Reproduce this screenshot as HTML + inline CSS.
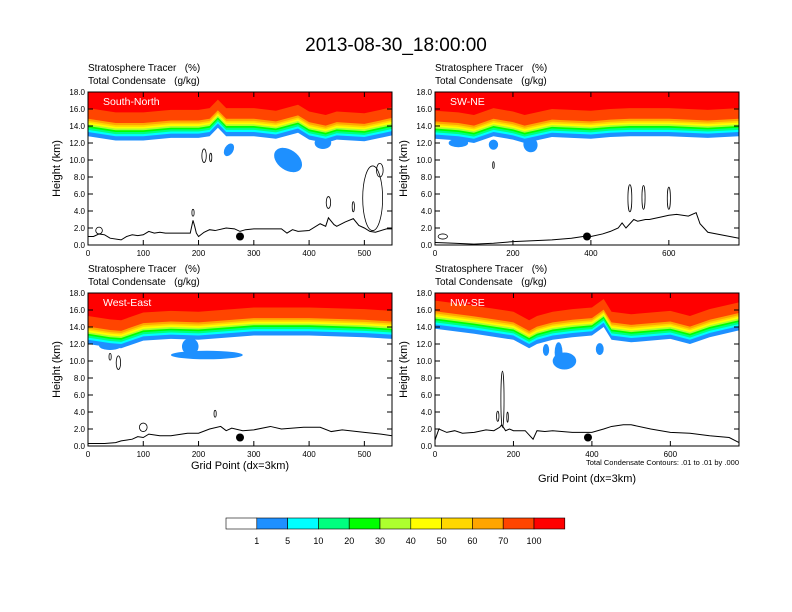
<!DOCTYPE html>
<html><head><meta charset="utf-8"><style>
body{margin:0;background:#fff;font-family:"Liberation Sans",sans-serif}
svg{display:block}
text{white-space:pre}
</style></head><body>
<svg id="fig" width="792" height="612" viewBox="0 0 792 612" xmlns="http://www.w3.org/2000/svg">
<rect width="792" height="612" fill="#fff"/>
<text x="396" y="51" font-size="19" text-anchor="middle" font-family="Liberation Sans">2013-08-30_18:00:00</text>
<g id="panels"></g>
<g id="cbar"></g>
</svg>
<script>
const colors=["#ffffff","#1e90ff","#00ffff","#00ff7f","#00ff00","#adff2f","#ffff00","#ffd700","#ffa500","#ff4500","#ff0000"];
const cbLabels=["1","5","10","20","30","40","50","60","70","100"];
const bandOffsets=[0,0.5,0.75,1.0,1.2,1.4,1.6,1.8,2.05,3.3];
const panelNames=["South-North","SW-NE","West-East","NW-SE"];
const xMaxes=[550,780,550,775];
const baseX=[[0,50,100,150,200,220,235,250,300,340,380,400,430,450,500,550],
[0,60,100,150,200,230,300,400,450,500,600,700,780],
[0,40,60,100,150,200,300,400,500,550],
[0,100,200,240,260,300,350,400,430,450,500,600,650,700,775]];
const baseY=[[12.8,12.3,12.3,12.6,12.6,12.8,13.8,12.8,12.8,12.5,13.2,12.4,12.0,12.4,12.2,12.9],
[12.5,12.3,12.0,12.8,12.4,12.0,12.7,12.5,12.7,12.8,12.8,12.6,12.8],
[12.0,11.6,11.5,12.4,12.6,12.5,13.0,13.0,12.8,12.6],
[13.8,13.2,12.5,11.5,12.0,12.5,12.8,13.0,14.0,12.5,12.2,12.6,12.0,12.8,13.6]];
const terrX=[[0,10,20,30,40,60,70,80,90,100,110,120,130,140,185,188,190,193,196,200,210,220,230,250,265,275,285,300,330,350,360,370,380,400,420,430,435,445,450,465,480,490,500,510,520,540,550],
[0,50,100,150,200,250,300,350,380,400,430,450,470,480,490,500,510,520,540,550,580,600,620,650,670,680,700,780],
[0,30,50,60,80,90,100,110,130,150,180,200,220,240,250,260,280,300,330,350,390,420,440,460,500,530,550],
[0,10,30,50,70,100,130,150,165,170,180,190,200,230,250,260,280,300,350,400,430,450,480,500,550,600,650,700,750,775]];
const terrY=[[1.0,1.0,1.3,1.2,0.8,0.6,1.0,1.2,1.1,1.2,1.6,1.4,1.5,1.4,1.4,2.3,2.9,2.2,1.4,1.0,1.5,1.8,1.7,2.0,1.9,1.6,1.8,1.9,1.9,1.9,1.4,1.8,1.6,1.7,2.5,2.2,3.2,2.4,2.2,2.7,3.1,2.3,2.0,1.6,1.5,1.9,1.9],
[0.3,0.2,0.1,0.2,0.4,0.5,0.6,0.8,1.0,1.0,1.3,1.6,2.0,2.6,2.0,2.5,3.0,2.8,3.0,3.0,3.3,3.5,3.6,3.4,3.8,2.5,1.5,0.8],
[0.3,0.3,0.4,0.6,0.8,1.1,1.0,1.4,1.2,1.2,1.5,1.5,2.0,2.3,1.8,2.1,1.8,1.9,2.3,2.0,2.2,2.2,1.7,1.9,1.6,1.4,1.2],
[0.7,2.0,1.6,1.8,1.5,1.6,1.9,1.8,2.2,2.5,1.8,2.0,1.8,1.8,0.8,1.8,1.7,1.8,1.6,1.6,2.0,2.3,2.5,2.5,2.0,1.6,1.5,1.2,1.0,0.4]];
const blobs=[[[362,10.0,28,1.2,-35],[255,11.2,8,0.8,-30],[425,12.0,15,0.7,0]],
[[150,11.8,12,0.6,0],[245,11.8,18,0.9,20],[60,12.0,25,0.5,0]],
[[215,10.7,65,0.5,0],[185,11.7,15,1.0,0],[40,11.8,20,0.5,0]],
[[330,10.0,30,1.0,0],[315,11.0,10,1.2,0],[283,11.3,8,0.7,0],[420,11.4,10,0.7,0]]];
const contours=[[[210,10.5,4,0.8],[222,10.3,2,0.5],[435,5.0,4,0.7],[480,4.5,2,0.6],[515,5.5,18,3.8],[528,8.8,6,0.8],[20,1.7,6,0.4],[190,3.8,2,0.4]],
[[500,5.5,5,1.6],[535,5.6,4,1.4],[600,5.5,4,1.3],[150,9.4,2,0.4],[20,1.0,12,0.3]],
[[100,2.2,7,0.5],[55,9.8,4,0.8],[40,10.5,2,0.4],[230,3.8,2,0.4]],
[[172,5.5,4,3.3],[160,3.5,3,0.6],[185,3.4,2,0.6]]];
const dotX=[275,390,275,390];
const boxes=[[88,92],[435,92],[88,293],[435,293]];
const W=304,H=153;
const NS="http://www.w3.org/2000/svg";
function mk(t,a,p){const e=document.createElementNS(NS,t);for(const k in a)e.setAttribute(k,a[k]);p.appendChild(e);return e;}
const root=document.getElementById('panels');
for(let p=0;p<4;p++){
 const [x0,y0]=boxes[p];
 const sx=v=>x0+v/xMaxes[p]*W, sy=v=>y0+H-v/18*H;
 const g=mk('g',{},root);
 
 
 const t1=mk('text',{x:x0,y:y0-21,'font-size':10},g);t1.textContent='Stratosphere Tracer   (%)';
 
 
 const t2=mk('text',{x:x0,y:y0-8,'font-size':10},g);t2.textContent='Total Condensate   (g/kg)';
 
 
 const cp=mk('clipPath',{id:'c'+p},g);mk('rect',{x:x0,y:y0,width:W,height:H},cp);
 const f=mk('g',{'clip-path':'url(#c'+p+')'},g);
 for(let k=0;k<bandOffsets.length;k++){
  let d='M'+sx(0)+','+y0;
  for(let i=0;i<baseX[p].length;i++)d+=' L'+sx(baseX[p][i])+','+sy(baseY[p][i]+bandOffsets[k]);
  d+=' L'+sx(xMaxes[p])+','+y0+'Z';
  const e=mk('path',{d:d,fill:colors[k+1]},f);
  
  
  if(k===0){for(const b of blobs[p]){const cx=sx(b[0]),cy=sy(b[1]);
   const el=mk('ellipse',{cx:cx,cy:cy,rx:b[2]/xMaxes[p]*W,ry:b[3]/18*H,fill:colors[1],transform:'rotate('+(-b[4])+' '+cx+' '+cy+')'},f);
   
   }}
 }
 for(const c of contours[p]){
  const el=mk('ellipse',{cx:sx(c[0]),cy:sy(c[1]),rx:c[2]/xMaxes[p]*W,ry:c[3]/18*H,fill:'none',stroke:'#000','stroke-width':0.8},f);
  
  
 }
 let d='';
 for(let i=0;i<terrX[p].length;i++)d+=(i?' L':'M')+sx(terrX[p][i])+','+sy(terrY[p][i]);
 const tl=mk('path',{d:d,fill:'none',stroke:'#000','stroke-width':1},f);
 
 
 const dot=mk('circle',{cx:sx(dotX[p]),cy:sy(1.0),r:4,fill:'#000'},g);
 
 
 const nm=mk('text',{x:x0+15,y:y0+13,'font-size':10.5,fill:'#fff'},g);nm.textContent=panelNames[p];
 
 
 mk('rect',{x:x0,y:y0,width:W,height:H,fill:'none',stroke:'#000','stroke-width':1},g);
 for(let v=0;v<=18;v+=2){const y=sy(v);
  mk('line',{x1:x0,x2:x0+5,y1:y,y2:y,stroke:'#000'},g);mk('line',{x1:x0+W-5,x2:x0+W,y1:y,y2:y,stroke:'#000'},g);
  const tt=mk('text',{x:x0-3,y:y+3,'font-size':8,'text-anchor':'end'},g);tt.textContent=v.toFixed(1);
  
  }
 const step=xMaxes[p]>600?200:100;
 for(let v=0;v<=xMaxes[p];v+=step){const x=sx(v);
  mk('line',{x1:x,x2:x,y1:y0+H,y2:y0+H-5,stroke:'#000'},g);mk('line',{x1:x,x2:x,y1:y0,y2:y0+5,stroke:'#000'},g);
  const tt=mk('text',{x:x,y:y0+H+11,'font-size':8,'text-anchor':'middle'},g);tt.textContent=v;
  
  }
 const yl=mk('text',{x:0,y:0,'font-size':11,'text-anchor':'middle',transform:'translate('+(x0-28)+','+(y0+H/2)+') rotate(-90)'},g);yl.textContent='Height (km)';
 
 
 if(p>=2){const xl=mk('text',{x:x0+W/2,y:p===2?y0+H+23:y0+H+36,'font-size':11,'text-anchor':'middle'},g);xl.textContent='Grid Point (dx=3km)';
  
  }
 if(p===3){const n=mk('text',{x:x0+W,y:y0+H+19,'font-size':7.5,'text-anchor':'end'},g);n.textContent='Total Condensate Contours: .01 to .01 by .000';
  
  }
}
const cb=document.getElementById('cbar');
const cx0=226,cw=30.8;
for(let i=0;i<colors.length;i++){
 const r=mk('rect',{x:cx0+i*cw,y:518,width:cw,height:11,fill:colors[i],stroke:'#000','stroke-width':0.6},cb);
 
 
}
for(let i=0;i<cbLabels.length;i++){
 const t=mk('text',{x:cx0+(i+1)*cw,y:544,'font-size':9,'text-anchor':'middle'},cb);t.textContent=cbLabels[i];
 
 
}
</script>
</body></html>
